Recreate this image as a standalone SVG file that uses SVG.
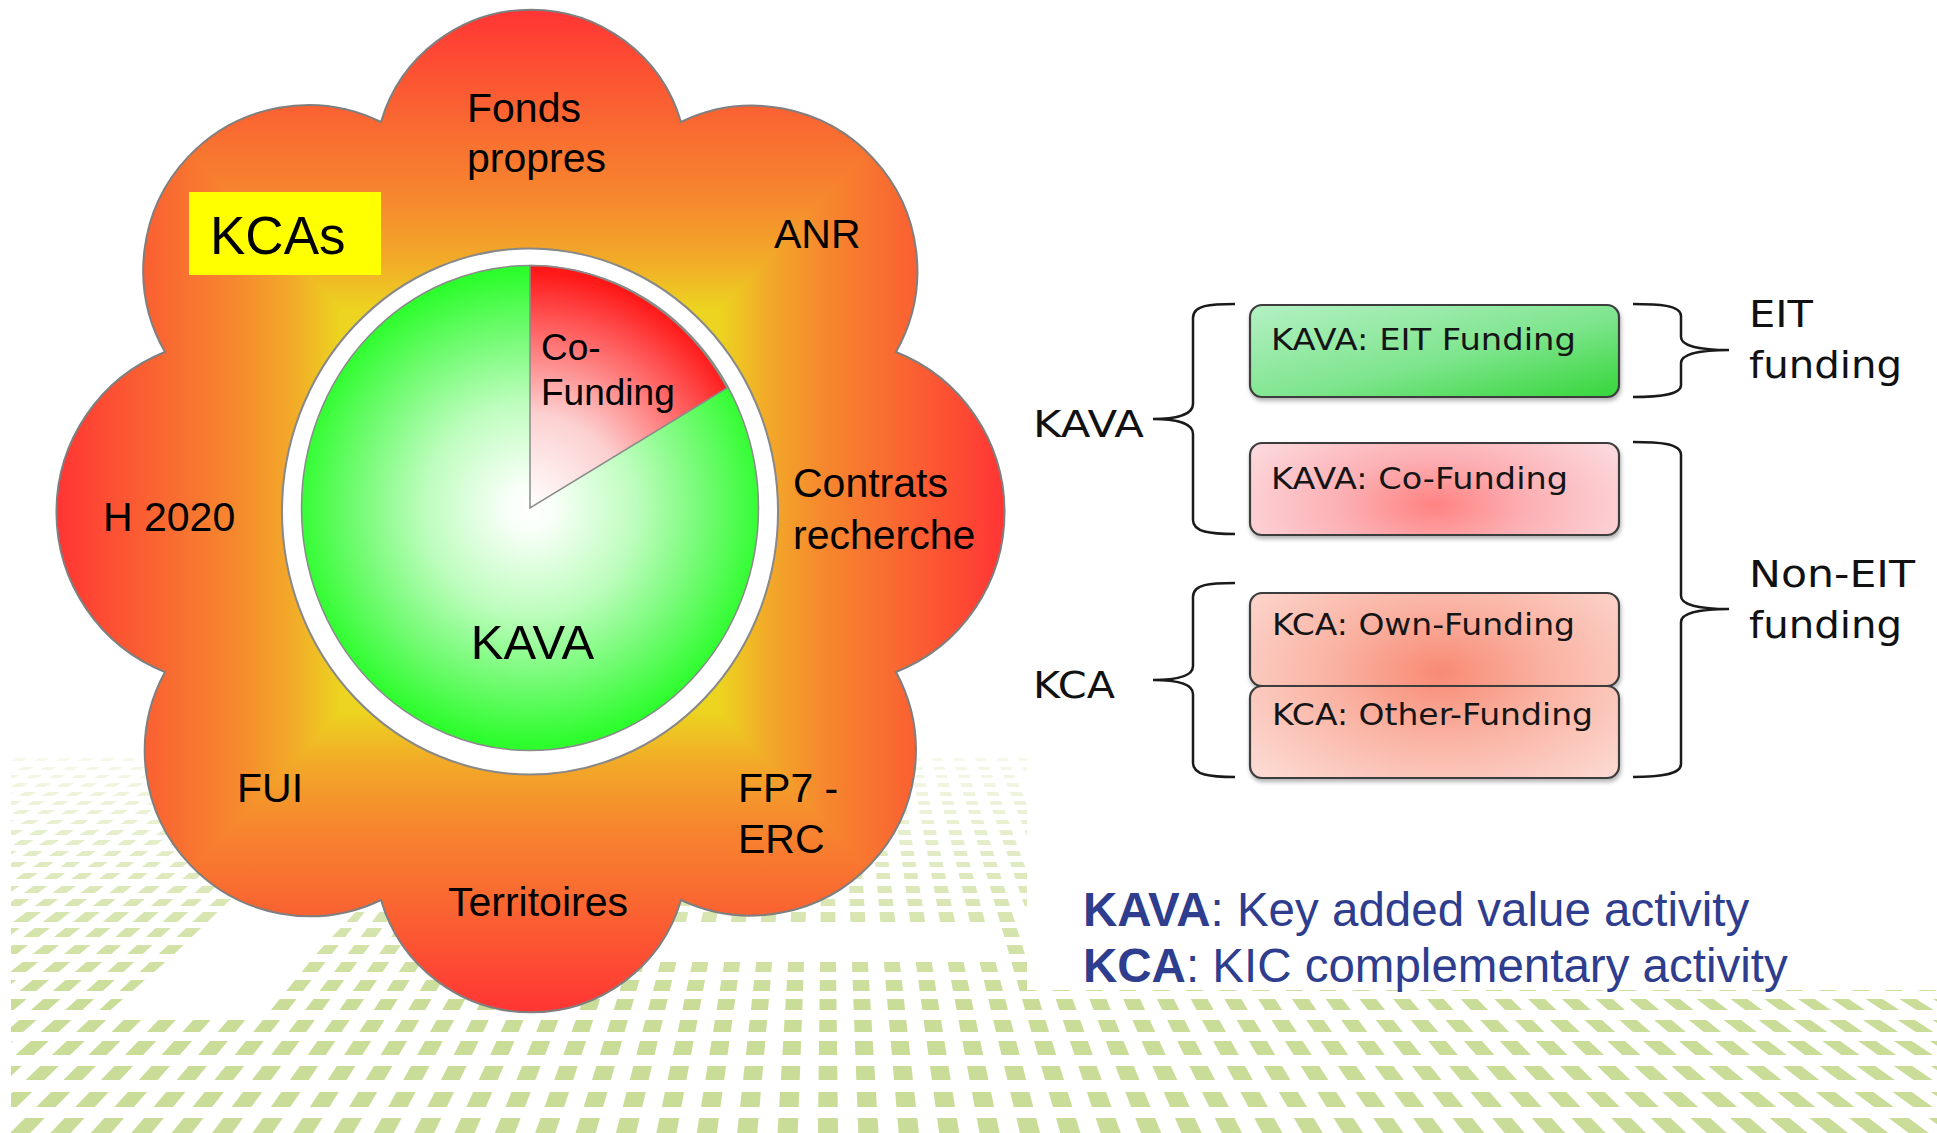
<svg xmlns="http://www.w3.org/2000/svg" xmlns:xlink="http://www.w3.org/1999/xlink" width="1937" height="1133" viewBox="0 0 1937 1133">
<defs>
<style>
.lbl{font-family:'Liberation Sans',Arial,sans-serif;font-size:41px;fill:#000}
.box{stroke:#3c3c3c;stroke-width:2.2}
.btxt{font-family:'DejaVu Sans',Verdana,sans-serif;font-size:31px;fill:#151515}
.side{font-family:'DejaVu Sans',Verdana,sans-serif;font-size:38px;fill:#111}
.brace{fill:none;stroke:#1a1a1a;stroke-width:2.5}
.leg{font-family:'Liberation Sans',Arial,sans-serif;font-size:47.5px;fill:#2e3d8e}
</style>
<linearGradient id="fl" gradientUnits="userSpaceOnUse" x1="530" y1="511" x2="530" y2="9">
<stop offset="0" stop-color="#ebe11f"/>
<stop offset="0.40" stop-color="#ecd420"/>
<stop offset="0.50" stop-color="#f2aa28"/>
<stop offset="0.62" stop-color="#f6882e"/>
<stop offset="0.76" stop-color="#f96b31"/>
<stop offset="0.90" stop-color="#fd4c33"/>
<stop offset="1" stop-color="#ff3434"/>
</linearGradient>
<linearGradient id="flB" xlink:href="#fl" x1="530" y1="511" x2="530" y2="1013"/>
<linearGradient id="flL" xlink:href="#fl" x1="530" y1="511" x2="56" y2="511"/>
<linearGradient id="flR" xlink:href="#fl" x1="530" y1="511" x2="1004" y2="511"/>
<radialGradient id="gGreen" gradientUnits="userSpaceOnUse" cx="530" cy="508" r="236">
<stop offset="0" stop-color="#ffffff"/>
<stop offset="0.1" stop-color="#f8fff8"/>
<stop offset="0.45" stop-color="#bdfdbd"/>
<stop offset="0.75" stop-color="#70fb70"/>
<stop offset="1" stop-color="#2dfd2d"/>
</radialGradient>
<radialGradient id="gRed" gradientUnits="userSpaceOnUse" cx="530" cy="508" r="236">
<stop offset="0" stop-color="#ffffff"/>
<stop offset="0.4" stop-color="#fcd0d0"/>
<stop offset="0.75" stop-color="#ff6565"/>
<stop offset="1" stop-color="#ff1818"/>
</radialGradient>
<linearGradient id="gEit" x1="0" y1="0" x2="1" y2="1">
<stop offset="0" stop-color="#b4f0c4"/>
<stop offset="0.55" stop-color="#7fe58e"/>
<stop offset="1" stop-color="#35d63a"/>
</linearGradient>
<radialGradient id="gCo" gradientUnits="userSpaceOnUse" cx="1434" cy="505" r="210" gradientTransform="translate(1434 505) scale(1 0.5) translate(-1434 -505)">
<stop offset="0" stop-color="#ff8282"/>
<stop offset="0.45" stop-color="#fcb0b4"/>
<stop offset="1" stop-color="#fcd8dc"/>
</radialGradient>
<radialGradient id="gKca" gradientUnits="userSpaceOnUse" cx="1440" cy="672" r="240" gradientTransform="translate(1440 672) scale(1 0.6) translate(-1440 -672)">
<stop offset="0" stop-color="#f88a74"/>
<stop offset="0.45" stop-color="#fab2a2"/>
<stop offset="1" stop-color="#fcd8d0"/>
</radialGradient>
<linearGradient id="pat" gradientUnits="userSpaceOnUse" x1="0" y1="758" x2="0" y2="1000">
<stop offset="0" stop-color="#f5f9ea"/>
<stop offset="0.45" stop-color="#dfeabf"/>
<stop offset="1" stop-color="#cadd98"/>
</linearGradient>
<clipPath id="rows">
<rect x="11" y="758" width="1926" height="3"/>
<rect x="11" y="767" width="1926" height="3"/>
<rect x="11" y="775" width="1926" height="3"/>
<rect x="11" y="783" width="1926" height="4"/>
<rect x="11" y="792" width="1926" height="4"/>
<rect x="11" y="801" width="1926" height="4"/>
<rect x="11" y="810" width="1926" height="4"/>
<rect x="11" y="820" width="1926" height="4"/>
<rect x="11" y="830" width="1926" height="5"/>
<rect x="11" y="840" width="1926" height="5"/>
<rect x="11" y="851" width="1926" height="5"/>
<rect x="11" y="862" width="1926" height="5"/>
<rect x="11" y="873" width="1926" height="6"/>
<rect x="11" y="886" width="1926" height="7"/>
<rect x="11" y="899" width="1926" height="7"/>
<rect x="11" y="912" width="1926" height="10"/>
<rect x="11" y="928" width="1926" height="9"/>
<rect x="11" y="945" width="1926" height="9"/>
<rect x="11" y="962" width="1926" height="10"/>
<rect x="11" y="980" width="1926" height="11"/>
<rect x="11" y="999" width="1926" height="11"/>
<rect x="11" y="1020" width="1926" height="12"/>
<rect x="11" y="1041" width="1926" height="14"/>
<rect x="11" y="1066" width="1926" height="14"/>
<rect x="11" y="1092" width="1926" height="15"/>
<rect x="11" y="1118" width="1926" height="15"/>
</clipPath>
<clipPath id="flowerClip">
<path d="M165 352 A165 165 0 0 1 381 122 A156.3 156.3 0 0 1 681 122 A165 165 0 0 1 896 352 A172.2 172.2 0 0 1 896 672 A165 165 0 0 1 681 900 A156.3 156.3 0 0 1 381 900 A165 165 0 0 1 165 672 A172.2 172.2 0 0 1 165 352 Z"/>
</clipPath>
<filter id="shadow" x="-5%" y="-10%" width="110%" height="130%">
<feDropShadow dx="1" dy="3" stdDeviation="2" flood-color="#000" flood-opacity="0.3"/>
</filter>
</defs>

<rect width="1937" height="1133" fill="#fff"/>

<g id="background-grid">
<g clip-path="url(#rows)">
<path fill="url(#pat)" d="M828 320L-2152 1930L-2112 1930Z M828 320L-2072 1930L-2032 1930Z M828 320L-1992 1930L-1952 1930Z M828 320L-1912 1930L-1872 1930Z M828 320L-1832 1930L-1792 1930Z M828 320L-1752 1930L-1712 1930Z M828 320L-1672 1930L-1632 1930Z M828 320L-1592 1930L-1552 1930Z M828 320L-1512 1930L-1472 1930Z M828 320L-1432 1930L-1392 1930Z M828 320L-1352 1930L-1312 1930Z M828 320L-1272 1930L-1232 1930Z M828 320L-1192 1930L-1152 1930Z M828 320L-1112 1930L-1072 1930Z M828 320L-1032 1930L-992 1930Z M828 320L-952 1930L-912 1930Z M828 320L-872 1930L-832 1930Z M828 320L-792 1930L-752 1930Z M828 320L-712 1930L-672 1930Z M828 320L-632 1930L-592 1930Z M828 320L-552 1930L-512 1930Z M828 320L-472 1930L-432 1930Z M828 320L-392 1930L-352 1930Z M828 320L-312 1930L-272 1930Z M828 320L-232 1930L-192 1930Z M828 320L-152 1930L-112 1930Z M828 320L-72 1930L-32 1930Z M828 320L8 1930L48 1930Z M828 320L88 1930L128 1930Z M828 320L168 1930L208 1930Z M828 320L248 1930L288 1930Z M828 320L328 1930L368 1930Z M828 320L408 1930L448 1930Z M828 320L488 1930L528 1930Z M828 320L568 1930L608 1930Z M828 320L648 1930L688 1930Z M828 320L728 1930L768 1930Z M828 320L808 1930L848 1930Z M828 320L888 1930L928 1930Z M828 320L968 1930L1008 1930Z M828 320L1048 1930L1088 1930Z M828 320L1128 1930L1168 1930Z M828 320L1208 1930L1248 1930Z M828 320L1288 1930L1328 1930Z M828 320L1368 1930L1408 1930Z M828 320L1448 1930L1488 1930Z M828 320L1528 1930L1568 1930Z M828 320L1608 1930L1648 1930Z M828 320L1688 1930L1728 1930Z M828 320L1768 1930L1808 1930Z M828 320L1848 1930L1888 1930Z M828 320L1928 1930L1968 1930Z M828 320L2008 1930L2048 1930Z M828 320L2088 1930L2128 1930Z M828 320L2168 1930L2208 1930Z M828 320L2248 1930L2288 1930Z M828 320L2328 1930L2368 1930Z M828 320L2408 1930L2448 1930Z M828 320L2488 1930L2528 1930Z M828 320L2568 1930L2608 1930Z M828 320L2648 1930L2688 1930Z M828 320L2728 1930L2768 1930Z M828 320L2808 1930L2848 1930Z M828 320L2888 1930L2928 1930Z M828 320L2968 1930L3008 1930Z M828 320L3048 1930L3088 1930Z M828 320L3128 1930L3168 1930Z M828 320L3208 1930L3248 1930Z M828 320L3288 1930L3328 1930Z M828 320L3368 1930L3408 1930Z M828 320L3448 1930L3488 1930Z M828 320L3528 1930L3568 1930Z"/>
</g>
<rect x="1027" y="740" width="910" height="250" fill="#fff"/>
<rect x="640" y="924" width="357" height="35" fill="#fff"/>
<polygon points="106,1014 259,1014 386,880 259,880" fill="#fff"/>
</g>

<g id="flower">
<g clip-path="url(#flowerClip)">
<rect x="40" y="0" width="490" height="1030" fill="url(#flL)"/>
<rect x="530" y="0" width="490" height="1030" fill="url(#flR)"/>
<polygon points="530,511 -39,-91 1099,-91" fill="url(#fl)"/>
<polygon points="530,511 1099,1113 -39,1113" fill="url(#flB)"/>
</g>
<path d="M165 352 A165 165 0 0 1 381 122 A156.3 156.3 0 0 1 681 122 A165 165 0 0 1 896 352 A172.2 172.2 0 0 1 896 672 A165 165 0 0 1 681 900 A156.3 156.3 0 0 1 381 900 A165 165 0 0 1 165 672 A172.2 172.2 0 0 1 165 352 Z" fill="none" stroke="#7f7f7f" stroke-width="2"/>
</g>

<g id="kcas-tag">
<rect x="189" y="192" width="192" height="83" fill="#ffff00"/>
<text x="210" y="254" class="lbl" style="font-size:53px">KCAs</text>
</g>

<g id="flower-labels">
<text x="467" y="122" class="lbl">Fonds</text>
<text x="467" y="172" class="lbl">propres</text>
<text x="774" y="248" class="lbl">ANR</text>
<text x="793" y="497" class="lbl">Contrats</text>
<text x="793" y="549" class="lbl">recherche</text>
<text x="103" y="531" class="lbl">H 2020</text>
<text x="237" y="802" class="lbl">FUI</text>
<text x="738" y="802" class="lbl">FP7 -</text>
<text x="738" y="853" class="lbl">ERC</text>
<text x="448" y="916" class="lbl">Territoires</text>
</g>

<g id="ring">
<ellipse cx="530" cy="511.5" rx="248" ry="263" fill="#fff" stroke="#888" stroke-width="2"/>
</g>

<g id="pie">
<ellipse cx="530" cy="508" rx="228.5" ry="242.5" fill="url(#gGreen)" stroke="#8a8a8a" stroke-width="1.5"/>
<path d="M530 508 L530 265.5 A228.5 242.5 0 0 1 727 388 Z" fill="url(#gRed)" stroke="#8a8a8a" stroke-width="1.5"/>
<text x="541" y="360" class="lbl" style="font-size:37px">Co-</text>
<text x="541" y="405" class="lbl" style="font-size:37px">Funding</text>
<text x="532.5" y="659" class="lbl" style="font-size:49px" text-anchor="middle">KAVA</text>
</g>

<g id="box-eit">
<rect x="1250" y="305" width="369" height="92" rx="12" fill="url(#gEit)" class="box" filter="url(#shadow)"/>
<text x="1271" y="350" class="btxt" textLength="305" lengthAdjust="spacingAndGlyphs">KAVA: EIT Funding</text>
</g>
<g id="box-cofunding">
<rect x="1250" y="443" width="369" height="92" rx="12" fill="url(#gCo)" class="box" filter="url(#shadow)"/>
<text x="1271" y="489" class="btxt" textLength="297" lengthAdjust="spacingAndGlyphs">KAVA: Co-Funding</text>
</g>
<g id="box-own">
<rect x="1250" y="593" width="369" height="93" rx="12" fill="url(#gKca)" class="box" filter="url(#shadow)"/>
<text x="1272" y="635" class="btxt" textLength="303" lengthAdjust="spacingAndGlyphs">KCA: Own-Funding</text>
</g>
<g id="box-other">
<rect x="1250" y="686" width="369" height="92" rx="12" fill="url(#gKca)" class="box" filter="url(#shadow)"/>
<text x="1272" y="725" class="btxt" textLength="321" lengthAdjust="spacingAndGlyphs">KCA: Other-Funding</text>
</g>

<g id="connectors">
<path class="brace" d="M1235 304 C1210 304 1193 305 1193 318 L1193 404 C1193 415 1175 419 1153 419 C1175 419 1193 423 1193 434 L1193 520 C1193 532 1210 534 1235 534"/>
<path class="brace" d="M1235 583 C1210 583 1193 584 1193 597 L1193 666 C1193 677 1175 680 1153 680 C1175 680 1193 683 1193 694 L1193 763 C1193 775 1210 777 1235 777"/>
<path class="brace" d="M1633 304 C1658 304 1681 305 1681 316 L1681 337 C1681 346 1700 350 1729 350 C1700 350 1681 354 1681 363 L1681 385 C1681 395 1658 397 1633 397"/>
<path class="brace" d="M1633 442 C1658 442 1681 443 1681 455 L1681 596 C1681 605 1700 609 1729 609 C1700 609 1681 613 1681 622 L1681 764 C1681 775 1658 777 1633 777"/>
</g>

<g id="side-labels">
<text x="1033" y="437" class="side" textLength="111" lengthAdjust="spacingAndGlyphs">KAVA</text>
<text x="1033" y="698" class="side" textLength="82" lengthAdjust="spacingAndGlyphs">KCA</text>
<text x="1749" y="327" class="side" textLength="64" lengthAdjust="spacingAndGlyphs">EIT</text>
<text x="1749" y="378" class="side" textLength="153" lengthAdjust="spacingAndGlyphs">funding</text>
<text x="1749" y="587" class="side" textLength="166" lengthAdjust="spacingAndGlyphs">Non-EIT</text>
<text x="1749" y="638" class="side" textLength="153" lengthAdjust="spacingAndGlyphs">funding</text>
</g>

<g id="legend">
<text x="1083" y="926" class="leg"><tspan font-weight="bold">KAVA</tspan>: Key added value activity</text>
<text x="1083" y="982" class="leg"><tspan font-weight="bold">KCA</tspan>: KIC complementary activity</text>
</g>
</svg>
